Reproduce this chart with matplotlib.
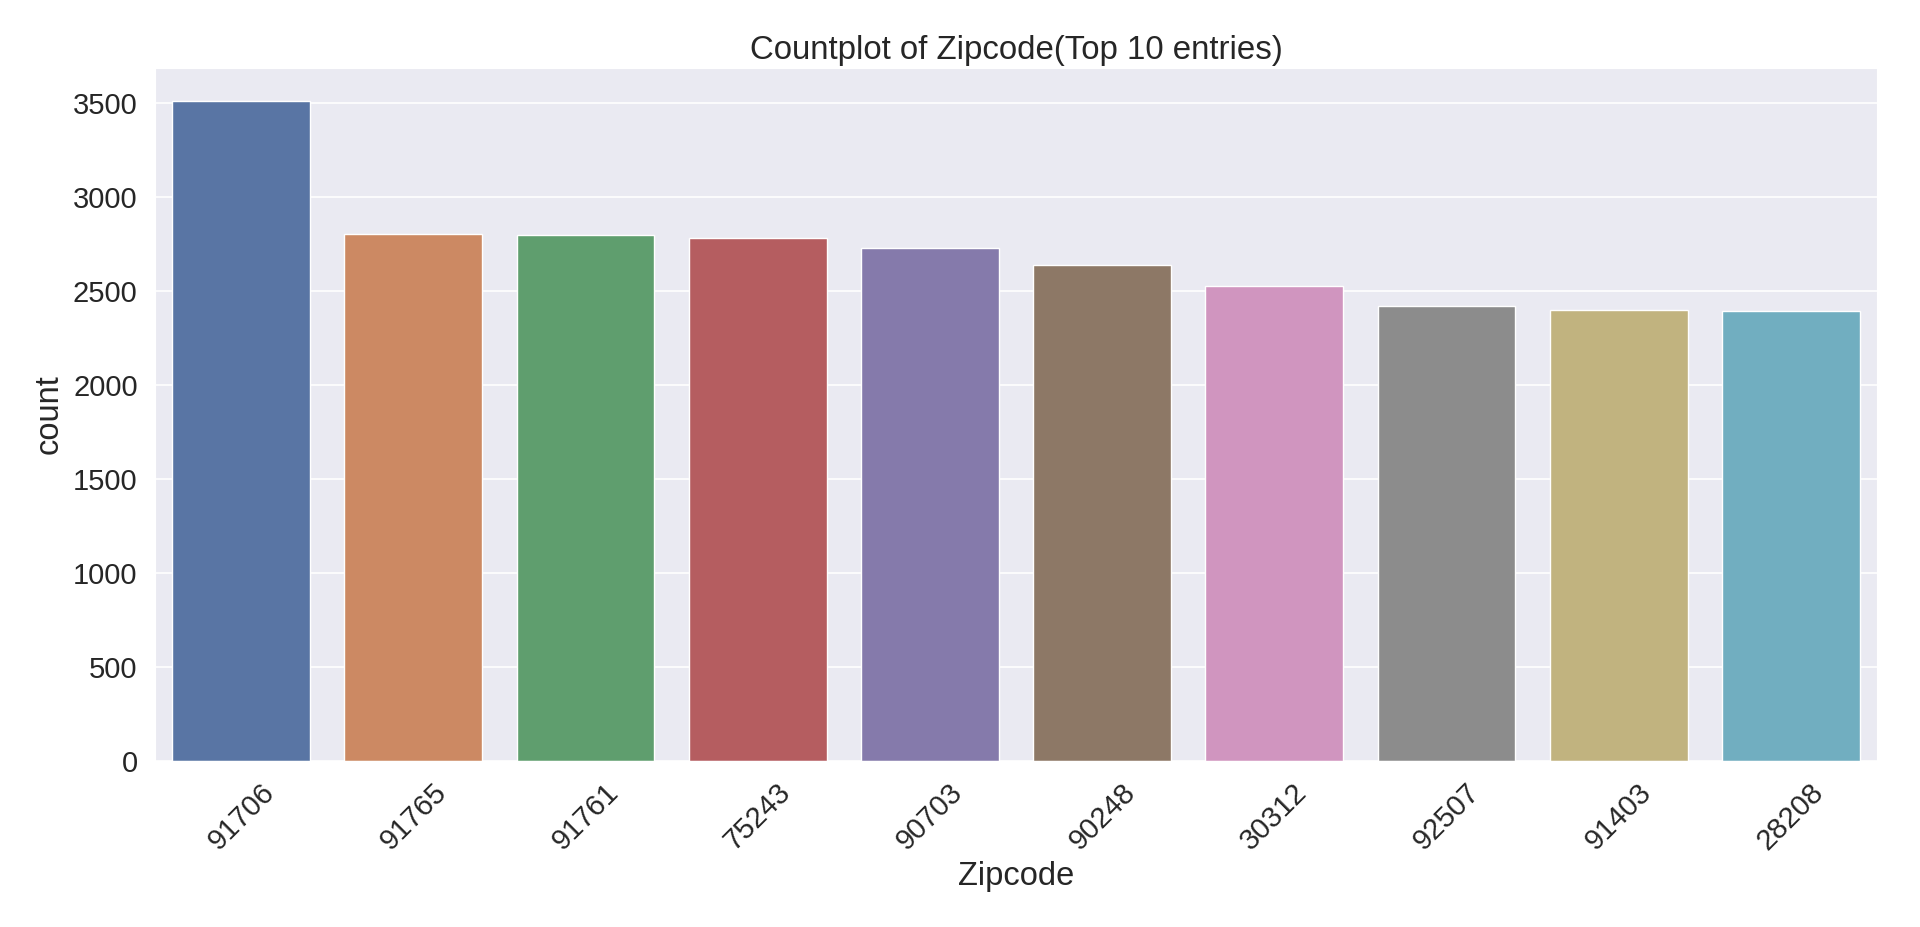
import matplotlib
matplotlib.use("Agg")
import matplotlib.pyplot as plt
import seaborn as sns

zipcodes = ['91706', '91765', '91761', '75243', '90703', '90248', '30312', '92507', '91403', '28208']
counts = [3512, 2802, 2797, 2782, 2730, 2640, 2528, 2418, 2397, 2392]

sns.set_style('darkgrid')
plt.rcParams['font.family'] = ['Liberation Sans', 'DejaVu Sans']
plt.rcParams['text.color'] = '.15'
plt.rcParams['axes.labelcolor'] = '.15'
plt.rcParams['xtick.color'] = '.15'
plt.rcParams['ytick.color'] = '.15'

colors = sns.color_palette('deep', len(zipcodes), desat=0.75)

fig = plt.figure(figsize=(19.2, 9.27), dpi=100)
ax = fig.add_axes([155/1920, (927-761)/927, (1877-155)/1920, (761-67.7)/927])

x = list(range(len(zipcodes)))
ax.bar(x, counts, width=0.8, color=colors, edgecolor='white', linewidth=1.0)
ax.set_xlim(-0.5, len(zipcodes) - 0.5)
ax.set_ylim(0, max(counts) * 1.05)
ax.set_xticks(x)
ax.set_xticklabels(zipcodes, rotation=45)
ax.set_yticks([0, 500, 1000, 1500, 2000, 2500, 3000, 3500])
ax.tick_params(axis='both', length=0, pad=12.5, labelsize=21)
ax.yaxis.grid(True, color='white', linewidth=1.2)
ax.xaxis.grid(False)
ax.set_axisbelow(True)
ax.set_xlabel('Zipcode', fontsize=23.5, labelpad=4)
ax.set_ylabel('count', fontsize=23.5, labelpad=6)
ax.set_title('Countplot of Zipcode(Top 10 entries)', fontsize=23.8, pad=6)

fig.savefig('out.png', dpi=100)
